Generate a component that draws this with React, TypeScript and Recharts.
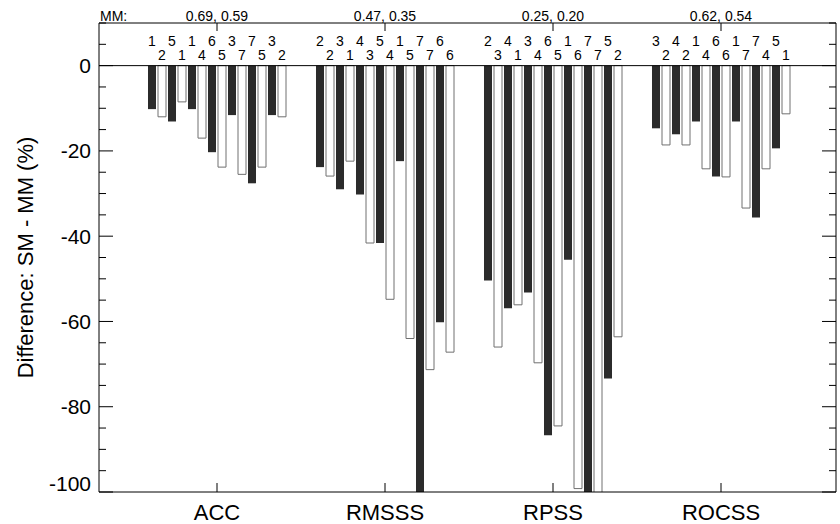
import React from "react";
import { BarChart, Bar, XAxis, YAxis, ReferenceLine, LabelList, Label } from "recharts";

// Skill scores and the multi-model (MM) reference values
const metrics = ["ACC", "RMSSS", "RPSS", "ROCSS"];
const mmScores = ["0.69, 0.59", "0.47, 0.35", "0.25, 0.20", "0.62, 0.54"];

// Difference SM - MM (%) for the dark bars, 7 per metric
const darkValues = [
  [-10.2, -13.1, -10.2, -20.3, -11.6, -27.6, -11.6],
  [-23.8, -29.0, -30.2, -41.6, -22.4, -104, -60.2],
  [-50.4, -56.9, -53.2, -86.7, -45.5, -104, -73.4],
  [-14.7, -16.1, -13.1, -26.0, -13.1, -35.6, -19.4],
];

// Difference SM - MM (%) for the open bars, 7 per metric
const lightValues = [
  [-12.0, -8.5, -17.0, -23.8, -25.5, -23.8, -12.0],
  [-25.9, -22.4, -41.6, -54.8, -64.0, -71.3, -67.2],
  [-66.0, -56.1, -69.7, -84.5, -99.2, -104, -63.6],
  [-18.6, -18.6, -24.2, -26.1, -33.4, -24.2, -11.3],
];

// Model numbers written above each bar
const darkModels = [
  ["1", "5", "1", "6", "3", "7", "3"],
  ["2", "3", "4", "5", "1", "7", "6"],
  ["2", "4", "3", "6", "1", "7", "5"],
  ["3", "4", "1", "6", "1", "7", "5"],
];
const lightModels = [
  ["2", "1", "4", "5", "7", "5", "2"],
  ["2", "1", "3", "4", "5", "7", "6"],
  ["3", "1", "4", "5", "6", "7", "2"],
  ["2", "2", "4", "6", "7", "4", "1"],
];

const yTicks = [10, 5, 0, -5, -10, -15, -20, -25, -30, -35, -40, -45, -50, -55, -60, -65, -70, -75, -80, -85, -90, -95, -100];
const pairs = [0, 1, 2, 3, 4, 5, 6];

const data = metrics.map((metric, g) => {
  const row: Record<string, string | number> = { metric, mm: mmScores[g] };
  pairs.forEach((i) => {
    row[`d${i}`] = darkValues[g][i];
    row[`l${i}`] = lightValues[g][i];
    row[`dm${i}`] = darkModels[g][i];
    row[`lm${i}`] = lightModels[g][i];
  });
  return row;
});

const FONT = "'Liberation Sans', Arial, Helvetica, sans-serif";
const INK = "#000";

// left axis: labels outside, ticks pointing into the plot
const LeftTick = (props: any) => {
  const { x, y, payload } = props;
  const major = payload.value % 20 === 0;
  return (
    <g>
      <line x1={x} x2={x + (major ? 14 : 7)} y1={y} y2={y} stroke={INK} />
      {major && (
        <text x={x - 8} y={payload.value === -100 ? y - 1 : y + 7.5} textAnchor="end" fontSize={21} fill={INK} fontFamily={FONT}>
          {payload.value}
        </text>
      )}
    </g>
  );
};

const RightTick = (props: any) => {
  const { x, y, payload } = props;
  const major = payload.value % 20 === 0;
  return <line x1={x} x2={x - (major ? 14 : 7)} y1={y} y2={y} stroke={INK} />;
};

const BottomTick = (props: any) => {
  const { x, y, payload } = props;
  return (
    <g>
      <line x1={x} x2={x} y1={y} y2={y - 9} stroke={INK} />
      <text x={x} y={y + 28} textAnchor="middle" fontSize={22} fill={INK} fontFamily={FONT}>
        {payload.value}
      </text>
    </g>
  );
};

const TopTick = (props: any) => {
  const { x, y, index } = props;
  return (
    <g>
      <line x1={x} x2={x} y1={y} y2={y + 8} stroke={INK} />
      <text x={x} y={y - 2.5} textAnchor="middle" fontSize={14} fill={INK} fontFamily={FONT}>
        {mmScores[index]}
      </text>
    </g>
  );
};

const MmCaption = (props: any) => {
  const { viewBox } = props;
  return (
    <text x={viewBox.x + 1} y={viewBox.y + viewBox.height - 2.5} fontSize={14} fill={INK} fontFamily={FONT}>
      MM:
    </text>
  );
};

const modelLabel = (rowY: number) => (props: any) => {
  const { x, width, value } = props;
  return (
    <text x={x + width / 2} y={rowY} textAnchor="middle" fontSize={14} fill={INK} fontFamily={FONT}>
      {value}
    </text>
  );
};

export default function App() {
  return (
    <div style={{ position: "absolute", left: 0, top: 0, background: "#fff", fontFamily: FONT }}>
      <BarChart
        width={840}
        height={524}
        data={data}
        margin={{ top: 0, right: 0, bottom: 0, left: 20 }}
        barGap={2}
        barCategoryGap={15}
      >
        <XAxis
          dataKey="metric"
          xAxisId="bottom"
          height={32}
          padding={{ left: 34, right: 31 }}
          interval={0}
          tickSize={0}
          tickMargin={0}
          tickLine={false}
          axisLine={{ stroke: INK }}
          tick={BottomTick}
        />
        <XAxis
          dataKey="metric"
          xAxisId="top"
          orientation="top"
          height={23}
          padding={{ left: 34, right: 31 }}
          interval={0}
          tickSize={0}
          tickMargin={0}
          tickLine={false}
          axisLine={{ stroke: INK }}
          tick={TopTick}
        >
          <Label content={MmCaption} />
        </XAxis>
        <YAxis
          yAxisId="left"
          width={79}
          domain={[-100, 10]}
          ticks={yTicks}
          interval={0}
          allowDataOverflow
          tickSize={0}
          tickMargin={0}
          tickLine={false}
          axisLine={{ stroke: INK }}
          tick={LeftTick}
        >
          <Label
            value="Difference: SM - MM (%)"
            angle={-90}
            position="insideLeft"
            fontSize={22}
            fill={INK}
            style={{ textAnchor: "middle" }}
          />
        </YAxis>
        <YAxis
          yAxisId="right"
          orientation="right"
          width={4}
          domain={[-100, 10]}
          ticks={yTicks}
          interval={0}
          allowDataOverflow
          tickSize={0}
          tickMargin={0}
          tickLine={false}
          axisLine={{ stroke: INK }}
          tick={RightTick}
        />
        {pairs.flatMap((i) => [
          <Bar
            key={`d${i}`}
            dataKey={`d${i}`}
            xAxisId="bottom"
            yAxisId="left"
            fill="#2b2b2b"
            isAnimationActive={false}
          >
            <LabelList dataKey={`dm${i}`} content={modelLabel(45.5)} />
          </Bar>,
          <Bar
            key={`l${i}`}
            dataKey={`l${i}`}
            xAxisId="bottom"
            yAxisId="left"
            fill="#fff"
            stroke="#707070"
            strokeWidth={1}
            isAnimationActive={false}
          >
            <LabelList dataKey={`lm${i}`} content={modelLabel(60)} />
          </Bar>,
        ])}
        <ReferenceLine y={0} xAxisId="bottom" yAxisId="left" stroke={INK} />
      </BarChart>
    </div>
  );
}
